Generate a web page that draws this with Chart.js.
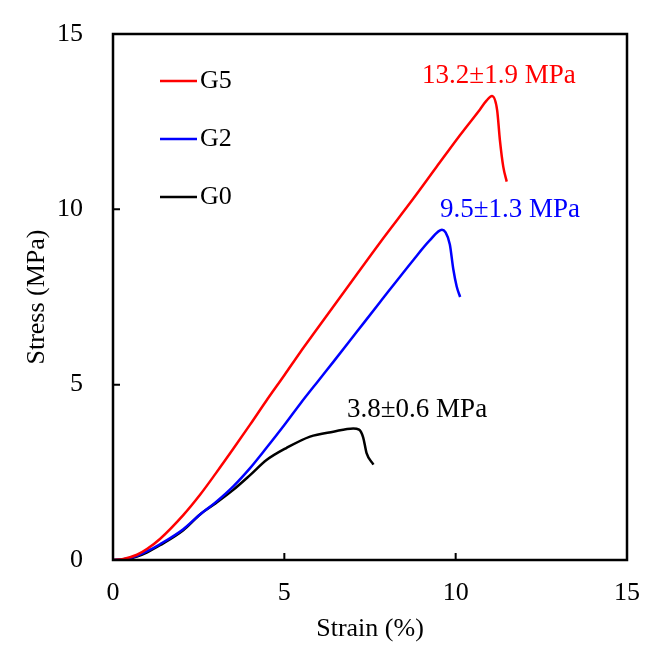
<!DOCTYPE html>
<html>
<head>
<meta charset="utf-8">
<script src="https://cdn.jsdelivr.net/npm/chart.js@4"></script>
<style>
  html, body { margin: 0; padding: 0; background: #fff; }
  #wrap { width: 668px; height: 655px; }
</style>
</head>
<body>
<div id="wrap"><canvas id="chart" width="668" height="655"></canvas></div>
<script>
// Stress-strain curves (strain %, stress MPa)
const g5Strain = [0, 0.3, 0.7, 1.0, 1.37, 2.05, 2.54, 3.0, 3.51, 4.0, 4.48, 5.0, 5.46, 5.89, 6.82, 7.79, 8.76, 9.45, 10.13, 10.71, 10.9, 11.06, 11.21, 11.29, 11.39, 11.49];
const g5Stress = [0, 0.03, 0.15, 0.32, 0.6, 1.28, 1.86, 2.47, 3.17, 3.86, 4.55, 5.27, 5.92, 6.5, 7.75, 9.05, 10.3, 11.22, 12.12, 12.85, 13.1, 13.23, 12.83, 11.98, 11.21, 10.79];

const g2Strain = [0, 0.3, 0.7, 1.0, 1.37, 2.05, 2.54, 3.0, 3.51, 4.0, 4.48, 5.0, 5.46, 6.0, 6.43, 7.11, 7.79, 8.76, 9.25, 9.6, 9.7, 9.83, 9.93, 10.03, 10.13];
const g2Stress = [0, 0.02, 0.12, 0.25, 0.45, 0.88, 1.3, 1.65, 2.1, 2.62, 3.2, 3.85, 4.45, 5.12, 5.65, 6.5, 7.35, 8.55, 9.12, 9.42, 9.35, 9.0, 8.3, 7.8, 7.5];

const g0Strain = [0, 0.3, 0.7, 1.0, 1.37, 2.05, 2.54, 3.0, 3.51, 4.0, 4.48, 5.07, 5.75, 6.43, 7.01, 7.18, 7.3, 7.4, 7.6];
const g0Stress = [0, 0.0, 0.1, 0.22, 0.42, 0.85, 1.3, 1.62, 2.0, 2.42, 2.85, 3.2, 3.52, 3.66, 3.75, 3.72, 3.5, 3.05, 2.72];

const seriesNames = ['G5', 'G2', 'G0'];
const seriesColors = ['#ff0000', '#0000ff', '#000000'];

// strength labels (text + anchor in data units)
const strengthText = ['13.2\u00b11.9 MPa', '9.5\u00b11.3 MPa', '3.8\u00b10.6 MPa'];
const strengthAtX = [9.02, 9.54, 6.83];
const strengthAtY = [13.8, 9.98, 4.28];

const axisMin = 0;
const axisMax = 15;
const axisStep = 5;

const FONT = '"Liberation Serif", "Times New Roman", serif';

const toPoints = (xs, ys) => xs.map((x, i) => ({ x, y: ys[i] }));

const framePlugin = {
  id: 'frame',
  afterDatasetsDraw(chart) {
    const { ctx, chartArea: a, scales: { x, y } } = chart;
    ctx.save();
    ctx.strokeStyle = '#000';
    ctx.lineWidth = 2.5;
    ctx.strokeRect(a.left, a.top, a.right - a.left, a.bottom - a.top);

    // inner tick marks on the left and bottom axes
    ctx.lineWidth = 2;
    ctx.beginPath();
    x.ticks.forEach(t => {
      if (t.value <= axisMin || t.value >= axisMax) return;
      const px = x.getPixelForValue(t.value);
      ctx.moveTo(px, a.bottom);
      ctx.lineTo(px, a.bottom - 7);
    });
    y.ticks.forEach(t => {
      if (t.value <= axisMin || t.value >= axisMax) return;
      const py = y.getPixelForValue(t.value);
      ctx.moveTo(a.left, py);
      ctx.lineTo(a.left + 7, py);
    });
    ctx.stroke();

    // strength labels
    ctx.font = '27px ' + FONT;
    ctx.textAlign = 'left';
    ctx.textBaseline = 'middle';
    strengthText.forEach((txt, i) => {
      ctx.fillStyle = seriesColors[i];
      ctx.fillText(txt, x.getPixelForValue(strengthAtX[i]), y.getPixelForValue(strengthAtY[i]));
    });

    // legend inside the plot, top-left
    ctx.font = '26px ' + FONT;
    const lx = a.left + 47;
    let ly = a.top + 47;
    seriesNames.forEach((name, i) => {
      ctx.strokeStyle = seriesColors[i];
      ctx.lineWidth = 2.5;
      ctx.beginPath();
      ctx.moveTo(lx, ly);
      ctx.lineTo(lx + 37, ly);
      ctx.stroke();
      ctx.fillStyle = '#000';
      ctx.fillText(name, lx + 40, ly);
      ly += 58;
    });
    ctx.restore();
  }
};

new Chart(document.getElementById('chart'), {
  type: 'scatter',
  data: {
    datasets: [
      { label: seriesNames[0], data: toPoints(g5Strain, g5Stress) },
      { label: seriesNames[1], data: toPoints(g2Strain, g2Stress) },
      { label: seriesNames[2], data: toPoints(g0Strain, g0Stress) }
    ].map((d, i) => ({
      ...d,
      showLine: true,
      borderColor: seriesColors[i],
      backgroundColor: seriesColors[i],
      borderWidth: 2.5,
      pointRadius: 0,
      cubicInterpolationMode: 'monotone',
      fill: false
    }))
  },
  options: {
    responsive: false,
    animation: false,
    layout: { padding: { left: 0, right: 41, top: 34, bottom: 0 } },
    plugins: {
      legend: { display: false },
      tooltip: { enabled: false }
    },
    scales: {
      x: {
        type: 'linear',
        min: axisMin,
        max: axisMax,
        ticks: { stepSize: axisStep, color: '#000', padding: 18, font: { family: FONT, size: 26 } },
        grid: { display: false, drawTicks: false },
        border: { display: false },
        title: { display: true, text: 'Strain (%)', color: '#000', padding: { top: 0, bottom: 10 }, font: { family: FONT, size: 26 } },
        afterFit(scale) {
          scale.height = 95;
          scale.paddingLeft = 0;
          scale.paddingRight = 0;
        }
      },
      y: {
        type: 'linear',
        min: axisMin,
        max: axisMax,
        ticks: { stepSize: axisStep, color: '#000', padding: 30, font: { family: FONT, size: 26 } },
        grid: { display: false, drawTicks: false },
        border: { display: false },
        title: { display: true, text: 'Stress (MPa)', color: '#000', padding: { top: 22, bottom: 0 }, font: { family: FONT, size: 26 } },
        afterFit(scale) {
          scale.width = 113;
          scale.paddingTop = 0;
          scale.paddingBottom = 0;
        }
      }
    }
  },
  plugins: [framePlugin]
});
</script>
</body>
</html>
